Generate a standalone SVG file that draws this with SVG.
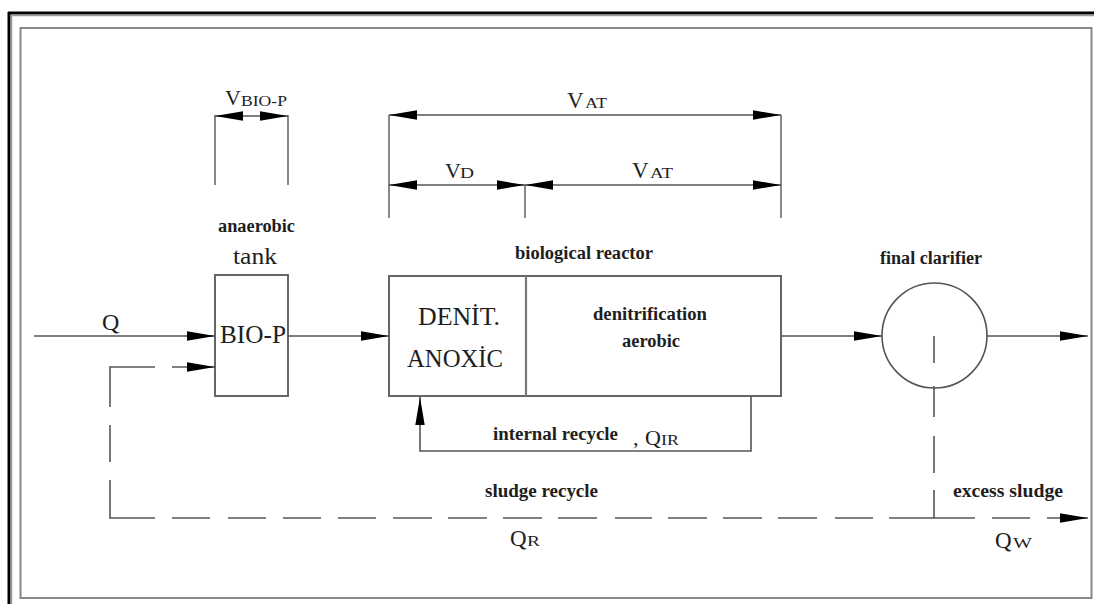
<svg xmlns="http://www.w3.org/2000/svg" width="1094" height="604" viewBox="0 0 1094 604" font-family="'Liberation Serif', 'DejaVu Serif', serif">
<style>
text{font-family:'Liberation Serif','DejaVu Serif',serif;fill:#1e1e1e}
.lb{font-weight:bold;font-size:18px}
.big{font-size:25px}
.ln{fill:none;stroke:#555;stroke-width:1.6}
.box{fill:#fff;stroke:#666;stroke-width:2}
.dim{fill:none;stroke:#555;stroke-width:1.4}
</style>
<defs>
<marker id="ah" markerUnits="userSpaceOnUse" markerWidth="30" markerHeight="12" refX="28" refY="5" orient="auto-start-reverse" overflow="visible">
<path d="M0,0.3 L28,5 L0,9.7 Z" fill="#000"/>
</marker>
</defs>
<rect width="1094" height="604" fill="#fff"/>
<g id="frame">
<line x1="8" y1="13" x2="1094" y2="13" stroke="#000" stroke-width="3"/>
<line x1="9" y1="12" x2="9" y2="604" stroke="#000" stroke-width="3"/>
<line x1="10.5" y1="15.5" x2="1094" y2="15.5" stroke="#999" stroke-width="1.5"/>
<line x1="11.5" y1="15" x2="11.5" y2="604" stroke="#999" stroke-width="1.5"/>
<rect x="20.5" y="28" width="1071" height="570" fill="none" stroke="#888" stroke-width="2"/>
</g>
<g id="dim-biop">
<line class="dim" x1="215" y1="115" x2="215" y2="185"/>
<line class="dim" x1="288" y1="115" x2="288" y2="185"/>
<line class="dim" x1="215" y1="116" x2="288" y2="116" marker-start="url(#ah)" marker-end="url(#ah)"/>
<text x="225" y="105" font-size="22">V</text>
<text x="241" y="106" font-size="15" textLength="46" lengthAdjust="spacingAndGlyphs">BIO-P</text>
</g>
<g id="dim-at">
<line class="dim" x1="389" y1="115" x2="389" y2="218"/>
<line class="dim" x1="781" y1="115" x2="781" y2="218"/>
<line class="dim" x1="525" y1="185" x2="525" y2="218"/>
<line class="dim" x1="389" y1="115" x2="781" y2="115" marker-start="url(#ah)" marker-end="url(#ah)"/>
<line class="dim" x1="389" y1="185" x2="525" y2="185" marker-start="url(#ah)" marker-end="url(#ah)"/>
<line class="dim" x1="525" y1="185" x2="781" y2="185" marker-start="url(#ah)" marker-end="url(#ah)"/>
<text x="567" y="108" font-size="23">V</text>
<text x="585" y="108" font-size="15.5" textLength="22" lengthAdjust="spacingAndGlyphs">AT</text>
<text x="445" y="178" font-size="22">V</text>
<text x="460" y="178" font-size="15" textLength="14" lengthAdjust="spacingAndGlyphs">D</text>
<text x="632" y="178" font-size="23">V</text>
<text x="650" y="178" font-size="15.5" textLength="23" lengthAdjust="spacingAndGlyphs">AT</text>
</g>
<g id="anaerobic-tank">
<rect class="box" x="215" y="275" width="73" height="121"/>
<text class="lb" x="218" y="232" textLength="77" lengthAdjust="spacingAndGlyphs">anaerobic</text>
<text x="233" y="264" font-size="23" textLength="44" lengthAdjust="spacingAndGlyphs">tank</text>
<text class="big" x="220" y="343" textLength="66" lengthAdjust="spacingAndGlyphs">BIO-P</text>
</g>
<g id="biological-reactor">
<rect class="box" x="389" y="276" width="392" height="120"/>
<line x1="526" y1="276" x2="526" y2="396" stroke="#777" stroke-width="2.2"/>
<text class="lb" x="515" y="259" textLength="138" lengthAdjust="spacingAndGlyphs">biological reactor</text>
<text class="big" x="418" y="325" textLength="82" lengthAdjust="spacingAndGlyphs">DENİT.</text>
<text class="big" x="407" y="367" textLength="96" lengthAdjust="spacingAndGlyphs">ANOXİC</text>
<text class="lb" x="593" y="320" textLength="114" lengthAdjust="spacingAndGlyphs">denitrification</text>
<text class="lb" x="622" y="347" textLength="58" lengthAdjust="spacingAndGlyphs">aerobic</text>
</g>
<g id="final-clarifier">
<circle cx="934.5" cy="335.5" r="52.5" fill="#fff" stroke="#555" stroke-width="1.6"/>
<text class="lb" x="880" y="264" textLength="102" lengthAdjust="spacingAndGlyphs">final clarifier</text>
</g>
<g id="connectors">
<line class="ln" x1="34" y1="336" x2="215" y2="336" marker-end="url(#ah)"/>
<line class="ln" x1="288" y1="336" x2="389" y2="336" marker-end="url(#ah)"/>
<line class="ln" x1="781" y1="336" x2="882" y2="336" marker-end="url(#ah)"/>
<line class="ln" x1="987" y1="336" x2="1088" y2="336" marker-end="url(#ah)"/>
<path class="ln" d="M751,396 V451 H420 V397" marker-end="url(#ah)"/>
<path class="ln" d="M934,336 V518" stroke-dasharray="27 23 31 19 37 17 28"/>
<path class="ln" d="M889,518 H1088" stroke-dasharray="86 17 38 17 41" marker-end="url(#ah)"/>
<path class="ln" d="M873,518 H110 V367 H215" stroke-dasharray="38 18 39 16 39 16 39 16 37 18 39 16 39 16 39 16 39 17 38 17 38 17 38 18 38 17 83 18 37 18 85 17 43" marker-end="url(#ah)"/>
</g>
<g id="flow-labels">
<text x="102" y="330" font-size="24">Q</text>
<text class="lb" x="493" y="440" textLength="125" lengthAdjust="spacingAndGlyphs">internal recycle</text>
<text x="633" y="445" font-size="22">,</text>
<text x="645" y="445" font-size="22">Q</text>
<text x="661" y="445" font-size="14" textLength="18" lengthAdjust="spacingAndGlyphs">IR</text>
<text class="lb" x="485" y="497" textLength="113" lengthAdjust="spacingAndGlyphs">sludge recycle</text>
<text x="510" y="546" font-size="23">Q</text>
<text x="527" y="546" font-size="14" textLength="13" lengthAdjust="spacingAndGlyphs">R</text>
<text class="lb" x="953" y="497" textLength="110" lengthAdjust="spacingAndGlyphs">excess sludge</text>
<text x="995" y="548" font-size="23">Q</text>
<text x="1013" y="548" font-size="14" textLength="19" lengthAdjust="spacingAndGlyphs">W</text>
</g>
</svg>
